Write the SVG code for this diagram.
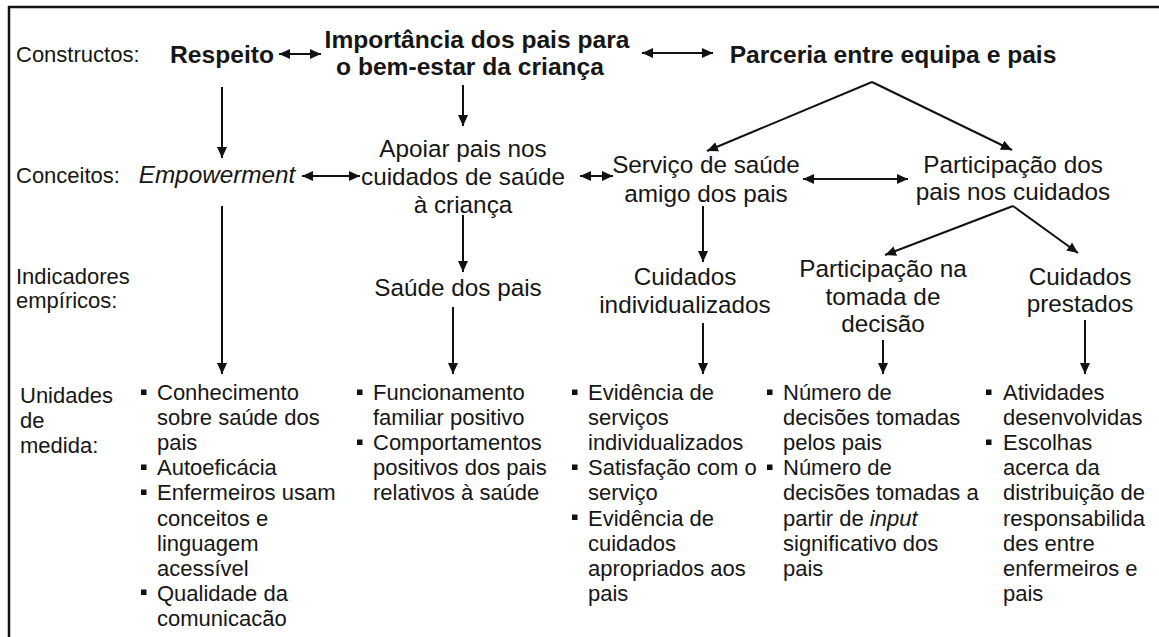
<svg xmlns="http://www.w3.org/2000/svg" width="1159" height="637" viewBox="0 0 1159 637">
<defs>
<marker id="ah" markerUnits="userSpaceOnUse" markerWidth="11" markerHeight="10" refX="11" refY="5" orient="auto-start-reverse">
<path d="M0,0 L11,5 L0,10 z" fill="#111"/>
</marker>
<style>
text{font-family:"Liberation Sans",Arial,sans-serif;fill:#161616}
.lab{font-size:22px}
.nd{font-size:24.3px;text-anchor:middle}
.bd{font-size:24.6px;font-weight:bold;text-anchor:middle}
.bl{font-size:22px}
.b{fill:#111}
.c{stroke:#111;stroke-width:2;fill:none}
.ca{stroke:#111;stroke-width:2;fill:none;marker-end:url(#ah)}
.cd{stroke:#111;stroke-width:2;fill:none;marker-start:url(#ah);marker-end:url(#ah)}
</style>
</defs>
<rect width="1159" height="637" fill="#fff"/>
<g id="frame">
<line x1="8" y1="7" x2="1159" y2="7" stroke="#111" stroke-width="2.5"/>
<line x1="9" y1="6" x2="9" y2="637" stroke="#111" stroke-width="2.5"/>
</g>
<g id="labels">
<text class="lab" x="16" y="62">Constructos:</text>
<text class="lab" x="16" y="183">Conceitos:</text>
<text class="lab" x="16" y="284">Indicadores</text>
<text class="lab" x="16" y="308">empíricos:</text>
<text class="lab" x="20" y="403">Unidades</text>
<text class="lab" x="20" y="428">de</text>
<text class="lab" x="20" y="453">medida:</text>
</g>
<g id="n-respeito"><text class="bd" x="222" y="63">Respeito</text></g>
<g id="n-importancia"><text class="bd" x="477" y="48">Importância dos pais para</text><text class="bd" x="470" y="75">o bem-estar da criança</text></g>
<g id="n-parceria"><text class="bd" x="893" y="63">Parceria entre equipa e pais</text></g>
<g id="n-empowerment"><text class="nd" x="217" y="183" font-style="italic">Empowerment</text></g>
<g id="n-apoiar"><text class="nd" x="463" y="157">Apoiar pais nos</text><text class="nd" x="463" y="185">cuidados de saúde</text><text class="nd" x="463" y="213">à criança</text></g>
<g id="n-servico"><text class="nd" x="706" y="173">Serviço de saúde</text><text class="nd" x="706" y="202">amigo dos pais</text></g>
<g id="n-participacao"><text class="nd" x="1013" y="173">Participação dos</text><text class="nd" x="1013" y="200">pais nos cuidados</text></g>
<g id="n-saude"><text class="nd" x="458" y="296">Saúde dos pais</text></g>
<g id="n-individualizados"><text class="nd" x="685" y="285">Cuidados</text><text class="nd" x="685" y="313">individualizados</text></g>
<g id="n-decisao"><text class="nd" x="883" y="277">Participação na</text><text class="nd" x="883" y="305">tomada de</text><text class="nd" x="883" y="332">decisão</text></g>
<g id="n-prestados"><text class="nd" x="1080" y="285">Cuidados</text><text class="nd" x="1080" y="312">prestados</text></g>
<g id="m-empowerment">
<rect class="b" x="141" y="389.5" width="5.5" height="5.5"/><rect class="b" x="141" y="464.5" width="5.5" height="5.5"/><rect class="b" x="141" y="489.5" width="5.5" height="5.5"/><rect class="b" x="141" y="589.5" width="5.5" height="5.5"/>
<text class="bl" x="157" y="400">Conhecimento</text>
<text class="bl" x="157" y="425.1">sobre saúde dos</text>
<text class="bl" x="157" y="450.2">pais</text>
<text class="bl" x="157" y="475.3">Autoeficácia</text>
<text class="bl" x="157" y="500.4">Enfermeiros usam</text>
<text class="bl" x="157" y="525.5">conceitos e</text>
<text class="bl" x="157" y="550.6">linguagem</text>
<text class="bl" x="157" y="575.7">acessível</text>
<text class="bl" x="157" y="600.8">Qualidade da</text>
<text class="bl" x="157" y="625.9">comunicacão</text>
</g>
<g id="m-saude">
<rect class="b" x="357" y="389.5" width="5.5" height="5.5"/><rect class="b" x="357" y="439.5" width="5.5" height="5.5"/>
<text class="bl" x="373" y="400">Funcionamento</text>
<text class="bl" x="373" y="425.1">familiar positivo</text>
<text class="bl" x="373" y="450.2">Comportamentos</text>
<text class="bl" x="373" y="475.3">positivos dos pais</text>
<text class="bl" x="373" y="500.4">relativos à saúde</text>
</g>
<g id="m-individualizados">
<rect class="b" x="572" y="389.5" width="5.5" height="5.5"/><rect class="b" x="572" y="464.5" width="5.5" height="5.5"/><rect class="b" x="572" y="514.5" width="5.5" height="5.5"/>
<text class="bl" x="588" y="400">Evidência de</text>
<text class="bl" x="588" y="425.1">serviços</text>
<text class="bl" x="588" y="450.2">individualizados</text>
<text class="bl" x="588" y="475.3">Satisfação com o</text>
<text class="bl" x="588" y="500.4">serviço</text>
<text class="bl" x="588" y="525.5">Evidência de</text>
<text class="bl" x="588" y="550.6">cuidados</text>
<text class="bl" x="588" y="575.7">apropriados aos</text>
<text class="bl" x="588" y="600.8">pais</text>
</g>
<g id="m-decisao">
<rect class="b" x="767" y="389.5" width="5.5" height="5.5"/><rect class="b" x="767" y="464.5" width="5.5" height="5.5"/>
<text class="bl" x="783" y="400">Número de</text>
<text class="bl" x="783" y="425.1">decisões tomadas</text>
<text class="bl" x="783" y="450.2">pelos pais</text>
<text class="bl" x="783" y="475.3">Número de</text>
<text class="bl" x="783" y="500.4">decisões tomadas a</text>
<text class="bl" x="783" y="525.5">partir de <tspan font-style="italic">input</tspan></text>
<text class="bl" x="783" y="550.6">significativo dos</text>
<text class="bl" x="783" y="575.7">pais</text>
</g>
<g id="m-prestados">
<rect class="b" x="986" y="389.5" width="5.5" height="5.5"/><rect class="b" x="986" y="439.5" width="5.5" height="5.5"/>
<text class="bl" x="1003" y="400">Atividades</text>
<text class="bl" x="1003" y="425.1">desenvolvidas</text>
<text class="bl" x="1003" y="450.2">Escolhas</text>
<text class="bl" x="1003" y="475.3">acerca da</text>
<text class="bl" x="1003" y="500.4">distribuição de</text>
<text class="bl" x="1003" y="525.5">responsabilida</text>
<text class="bl" x="1003" y="550.6">des entre</text>
<text class="bl" x="1003" y="575.7">enfermeiros e</text>
<text class="bl" x="1003" y="600.8">pais</text>
</g>
<g id="connectors">
<line class="cd" x1="279" y1="54" x2="321" y2="54"/>
<line class="cd" x1="642" y1="53" x2="713" y2="53"/>
<line class="ca" x1="222" y1="87" x2="222" y2="158"/>
<line class="ca" x1="463" y1="85" x2="463" y2="126"/>
<line class="ca" x1="872" y1="82" x2="707" y2="151"/>
<line class="ca" x1="872" y1="82" x2="1012" y2="150"/>
<line class="cd" x1="302" y1="176" x2="360" y2="176"/>
<line class="cd" x1="580" y1="176" x2="613" y2="176"/>
<line class="cd" x1="803" y1="179" x2="908" y2="179"/>
<line class="ca" x1="463" y1="215" x2="463" y2="272"/>
<line class="ca" x1="703" y1="206" x2="703" y2="262"/>
<line class="ca" x1="1013" y1="206" x2="885" y2="255"/>
<line class="ca" x1="1013" y1="206" x2="1078" y2="253"/>
<line class="ca" x1="222" y1="206" x2="222" y2="374"/>
<line class="ca" x1="453" y1="307" x2="453" y2="374"/>
<line class="ca" x1="703" y1="323" x2="703" y2="374"/>
<line class="ca" x1="883" y1="340" x2="883" y2="374"/>
<line class="ca" x1="1085" y1="320" x2="1085" y2="374"/>
</g>
</svg>
